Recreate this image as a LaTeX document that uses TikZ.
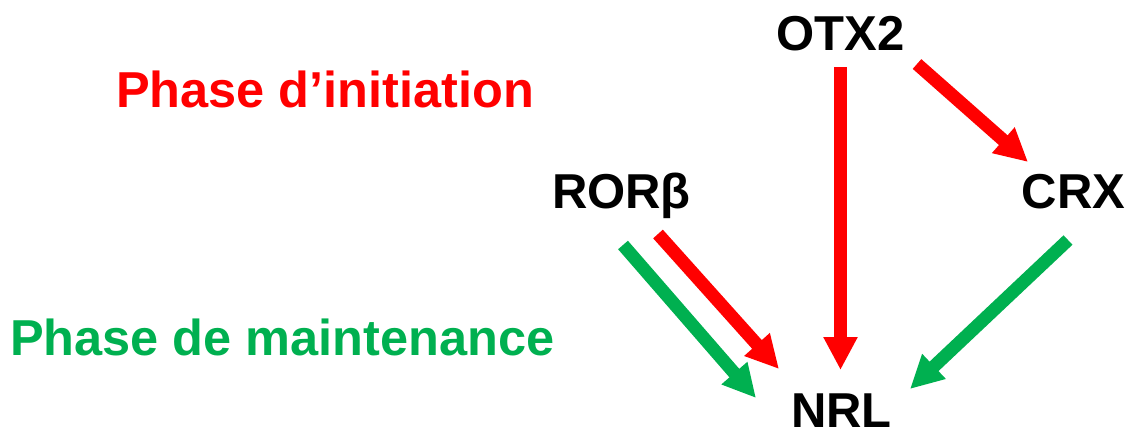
\documentclass[tikz,border=0pt]{standalone}
\usepackage{fontspec}
\setmainfont{Liberation Sans}
\usetikzlibrary{arrows.meta}
\definecolor{pred}{HTML}{FF0000}
\definecolor{pgreen}{HTML}{00B050}
\begin{document}
\begin{tikzpicture}[x=1pt,y=-1pt,
  lbl/.style={inner sep=0pt,font=\fontsize{49}{59}\selectfont\bfseries},
  phase/.style={inner sep=0pt,anchor=base west,font=\fontsize{50.5}{60}\selectfont\bfseries},
  arr/.style={line width=13pt,-{Triangle[length=33pt,width=32pt]}},
  redarr/.style={arr,draw=pred},
  greenarr/.style={arr,draw=pgreen}]
\useasboundingbox (0,0) rectangle (1129,432);
% labels
\node[lbl,anchor=base] (otx) at (840.5,50) {OTX2};
\node[lbl,anchor=base] (ror) at (621.5,208) {RORβ};
\node[lbl,anchor=base] (crx) at (1073.5,208) {CRX};
\node[lbl,anchor=base] (nrl) at (841.5,427) {NRL};
\node[phase,text=pred] (init) at (116,107) {Phase d’initiation};
\node[phase,text=pgreen] (maint) at (10,355) {Phase de maintenance};
% arrow end points
\coordinate (otxS) at (840.5,67);
\coordinate (otxT) at (840.5,370);
\coordinate (otxS2) at (917,64);
\coordinate (crxT) at (1028,162);
\coordinate (rorRS) at (658,234);
\coordinate (rorRT) at (779,369);
\coordinate (rorGS) at (623,245);
\coordinate (rorGT) at (756,398);
\coordinate (crxS) at (1068,240);
\coordinate (crxGT) at (910,389);
% connectors
\draw[redarr] (otxS) -- (otxT);
\draw[redarr] (otxS2) -- (crxT);
\draw[redarr] (rorRS) -- (rorRT);
\draw[greenarr] (rorGS) -- (rorGT);
\draw[greenarr] (crxS) -- (crxGT);
\end{tikzpicture}
\end{document}
